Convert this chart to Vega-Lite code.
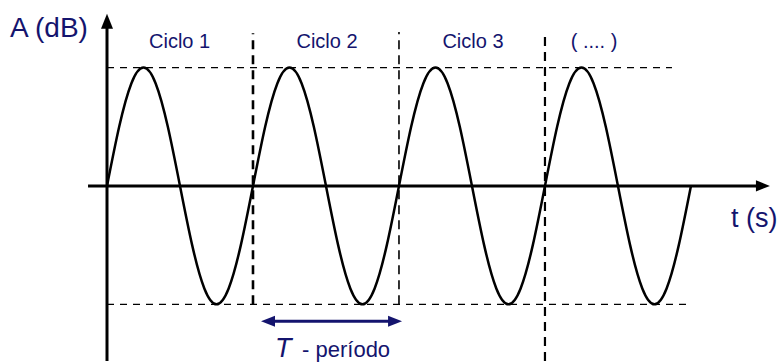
{
  "$schema": "https://vega.github.io/schema/vega-lite/v6.json",
  "width": 780,
  "height": 363,
  "padding": 0,
  "autosize": {"type": "fit", "contains": "padding"},
  "background": "white",
  "config": {"view": {"stroke": null}},
  "encoding": {
    "x": {"field": "t", "type": "quantitative", "scale": {"domain": [-0.733, 4.610], "nice": false, "zero": false}, "axis": null},
    "y": {"field": "A", "type": "quantitative", "scale": {"domain": [-1.479, 1.571], "nice": false, "zero": false}, "axis": null}
  },
  "layer": [
    {
      "data": {"values": [
        {"t": 0, "t2": 3.87, "A": 1},
        {"t": 0, "t2": 3.98, "A": -1}
      ]},
      "mark": {"type": "rule", "color": "black", "strokeWidth": 1.3, "strokeDash": [7, 6]},
      "encoding": {"x2": {"field": "t2"}}
    },
    {
      "data": {"values": [
        {"t": 1, "A": -1, "A2": 1.29}
      ]},
      "mark": {"type": "rule", "color": "black", "strokeWidth": 2.6, "strokeDash": [9, 6]},
      "encoding": {"y2": {"field": "A2"}}
    },
    {
      "data": {"values": [
        {"t": 2, "A": -1, "A2": 1.30}
      ]},
      "mark": {"type": "rule", "color": "black", "strokeWidth": 1.6, "strokeDash": [9, 6]},
      "encoding": {"y2": {"field": "A2"}}
    },
    {
      "data": {"values": [
        {"t": 3, "A": -1.479, "A2": 1.30}
      ]},
      "mark": {"type": "rule", "color": "black", "strokeWidth": 2.2, "strokeDash": [9, 6]},
      "encoding": {"y2": {"field": "A2"}}
    },
    {
      "data": {"values": [
        {"t": 0, "A": 0}, {"t": 0.0833, "A": 0.5}, {"t": 0.1667, "A": 0.866}, {"t": 0.25, "A": 1}, {"t": 0.3333, "A": 0.866}, {"t": 0.4167, "A": 0.5},
        {"t": 0.5, "A": 0}, {"t": 0.5833, "A": -0.5}, {"t": 0.6667, "A": -0.866}, {"t": 0.75, "A": -1}, {"t": 0.8333, "A": -0.866}, {"t": 0.9167, "A": -0.5},
        {"t": 1, "A": 0}, {"t": 1.0833, "A": 0.5}, {"t": 1.1667, "A": 0.866}, {"t": 1.25, "A": 1}, {"t": 1.3333, "A": 0.866}, {"t": 1.4167, "A": 0.5},
        {"t": 1.5, "A": 0}, {"t": 1.5833, "A": -0.5}, {"t": 1.6667, "A": -0.866}, {"t": 1.75, "A": -1}, {"t": 1.8333, "A": -0.866}, {"t": 1.9167, "A": -0.5},
        {"t": 2, "A": 0}, {"t": 2.0833, "A": 0.5}, {"t": 2.1667, "A": 0.866}, {"t": 2.25, "A": 1}, {"t": 2.3333, "A": 0.866}, {"t": 2.4167, "A": 0.5},
        {"t": 2.5, "A": 0}, {"t": 2.5833, "A": -0.5}, {"t": 2.6667, "A": -0.866}, {"t": 2.75, "A": -1}, {"t": 2.8333, "A": -0.866}, {"t": 2.9167, "A": -0.5},
        {"t": 3, "A": 0}, {"t": 3.0833, "A": 0.5}, {"t": 3.1667, "A": 0.866}, {"t": 3.25, "A": 1}, {"t": 3.3333, "A": 0.866}, {"t": 3.4167, "A": 0.5},
        {"t": 3.5, "A": 0}, {"t": 3.5833, "A": -0.5}, {"t": 3.6667, "A": -0.866}, {"t": 3.75, "A": -1}, {"t": 3.8333, "A": -0.866}, {"t": 3.9167, "A": -0.5},
        {"t": 4, "A": 0}
      ]},
      "mark": {"type": "line", "color": "black", "strokeWidth": 2.5, "interpolate": "natural"},
      "encoding": {"order": {"field": "t", "type": "quantitative"}}
    },
    {
      "data": {"values": [
        {"t": 0, "A": -1.479, "t2": 0, "A2": 1.39},
        {"t": -0.13, "A": 0, "t2": 4.48, "A2": 0}
      ]},
      "mark": {"type": "rule", "color": "black", "strokeWidth": 3},
      "encoding": {"x2": {"field": "t2"}, "y2": {"field": "A2"}}
    },
    {
      "data": {"values": [{"t": 0, "A": 1.391}]},
      "mark": {"type": "point", "shape": "M0,-1L0.8,1L-0.8,1Z", "size": 225, "filled": true, "color": "black", "opacity": 1, "strokeWidth": 0}
    },
    {
      "data": {"values": [{"t": 4.493, "A": 0}]},
      "mark": {"type": "point", "shape": "M1,0L-1,0.8L-1,-0.8Z", "size": 196, "filled": true, "color": "black", "opacity": 1, "strokeWidth": 0}
    },
    {
      "data": {"values": [{"t": 1.10, "t2": 1.975, "A": -1.143}]},
      "mark": {"type": "rule", "color": "#14146e", "strokeWidth": 3},
      "encoding": {"x2": {"field": "t2"}}
    },
    {
      "data": {"values": [{"t": 1.103, "A": -1.143}]},
      "mark": {"type": "point", "shape": "M-1,0L1,0.8L1,-0.8Z", "size": 196, "filled": true, "color": "#14146e", "opacity": 1, "strokeWidth": 0}
    },
    {
      "data": {"values": [{"t": 1.973, "A": -1.143}]},
      "mark": {"type": "point", "shape": "M1,0L-1,0.8L-1,-0.8Z", "size": 196, "filled": true, "color": "#14146e", "opacity": 1, "strokeWidth": 0}
    },
    {
      "data": {"values": [
        {"t": 0.497, "A": 1.168, "label": "Ciclo 1"},
        {"t": 1.507, "A": 1.168, "label": "Ciclo 2"},
        {"t": 2.507, "A": 1.168, "label": "Ciclo 3"},
        {"t": 3.336, "A": 1.168, "label": "( .... )"}
      ]},
      "mark": {"type": "text", "font": "Liberation Sans", "fontSize": 20, "color": "#14146e", "align": "center", "baseline": "alphabetic"},
      "encoding": {"text": {"field": "label"}}
    },
    {
      "data": {"values": [{"t": -0.664, "A": 1.261, "label": "A (dB)"}]},
      "mark": {"type": "text", "font": "Liberation Sans", "fontSize": 28, "color": "#14146e", "align": "left", "baseline": "alphabetic"},
      "encoding": {"text": {"field": "label"}}
    },
    {
      "data": {"values": [{"t": 4.274, "A": -0.345, "label": "t (s)"}]},
      "mark": {"type": "text", "font": "Liberation Sans", "fontSize": 27, "color": "#14146e", "align": "left", "baseline": "alphabetic"},
      "encoding": {"text": {"field": "label"}}
    },
    {
      "data": {"values": [{"t": 1.151, "A": -1.445, "label": "T"}]},
      "mark": {"type": "text", "font": "Liberation Sans", "fontSize": 27, "fontStyle": "italic", "color": "#14146e", "align": "left", "baseline": "alphabetic"},
      "encoding": {"text": {"field": "label"}}
    },
    {
      "data": {"values": [{"t": 1.336, "A": -1.445, "label": "- período"}]},
      "mark": {"type": "text", "font": "Liberation Sans", "fontSize": 22, "color": "#14146e", "align": "left", "baseline": "alphabetic"},
      "encoding": {"text": {"field": "label"}}
    }
  ]
}
